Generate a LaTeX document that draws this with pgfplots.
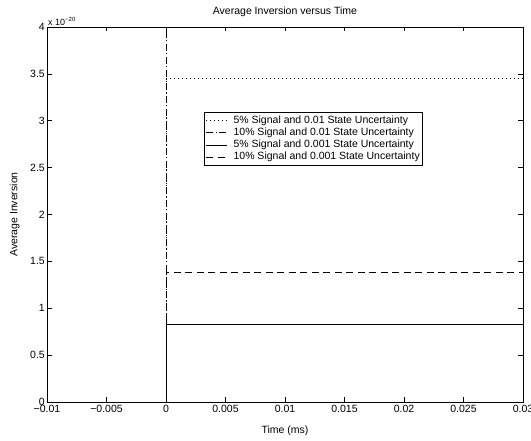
\documentclass[border=0pt]{standalone}
\usepackage{fontspec}
\setmainfont{Liberation Sans}
\usepackage{pgfplots}
\pgfplotsset{compat=1.18}
\begin{document}
\fontsize{10.5}{12.6}\selectfont
\begin{tikzpicture}[font=\fontsize{10.5}{12.6}\selectfont]
\path[use as bounding box] (0,0) rectangle (531pt,441pt);
\begin{axis}[
  at={(47pt,39pt)}, anchor=south west,
  scale only axis, width=476pt, height=375pt,
  xmin=-0.01, xmax=0.03, ymin=0, ymax=4e-20,
  axis line style={line width=0.8pt},
  tick style={line width=0.6pt, black},
  tick align=inside, major tick length=4.5pt,
  xtick={-0.01,-0.005,0,0.005,0.01,0.015,0.02,0.025,0.03},
  xticklabels={−0.01,−0.005,0,0.005,0.01,0.015,0.02,0.025,0.03},
  scaled x ticks=false,
  ytick={0,0.5e-20,1e-20,1.5e-20,2e-20,2.5e-20,3e-20,3.5e-20,4e-20},
  yticklabels={0,0.5,1,1.5,2,2.5,3,3.5,4},
  scaled y ticks=false,
  ticklabel style={font=\fontsize{10.5}{12.6}\selectfont},
  xticklabel style={inner sep=2pt, yshift=-1pt},
  yticklabel style={inner sep=2pt},
  /pgf/number format/assume math mode=true,
  title={Average Inversion versus Time},
  title style={yshift=1pt, font=\fontsize{10.5}{12.6}\selectfont},
  xlabel={Time (ms)}, ylabel={Average Inversion},
  xlabel style={yshift=-8pt, font=\fontsize{10.5}{12.6}\selectfont},
  ylabel style={yshift=5pt, font=\fontsize{10.5}{12.6}\selectfont},
  clip mode=individual,
  legend style={at={(axis cs:0.0032,3.09e-20)}, anchor=north west, draw=black, line width=0.8pt,
    inner sep=1.5pt, row sep=0pt, font=\fontsize{10.5}{12.6}\selectfont,
    nodes={inner sep=1pt, text height=7.8pt, text depth=2.5pt},
    /tikz/every odd column/.append style={column sep=5pt}},
  legend cell align=left,
  legend image code/.code={\draw[#1, line width=0.6pt] (0pt,0pt) -- (21pt,0pt);},
]
\addplot[black, line width=0.6pt, dash pattern=on 1pt off 3pt] coordinates {(0,0) (0,3.456e-20) (0.03,3.456e-20)};
\addlegendentry{5\% Signal and 0.01 State Uncertainty}
\addplot[black, line width=0.6pt, dash pattern=on 7pt off 2.5pt on 1pt off 2.5pt] coordinates {(0,0) (0,6e-20) (0.03,6e-20)};
\addlegendentry{10\% Signal and 0.01 State Uncertainty}
\addplot[black, line width=0.6pt] coordinates {(0,0) (0,0.832e-20) (0.03,0.832e-20)};
\addlegendentry{5\% Signal and 0.001 State Uncertainty}
\addplot[black, line width=0.6pt, dash pattern=on 7pt off 4.5pt] coordinates {(0,0) (0,1.387e-20) (0.03,1.387e-20)};
\addlegendentry{10\% Signal and 0.001 State Uncertainty}
\node[anchor=south west, inner sep=1pt, font=\fontsize{9}{10}\selectfont] at (rel axis cs:0,1) {x 10\textsuperscript{−20}};
\end{axis}
\end{tikzpicture}
\end{document}
